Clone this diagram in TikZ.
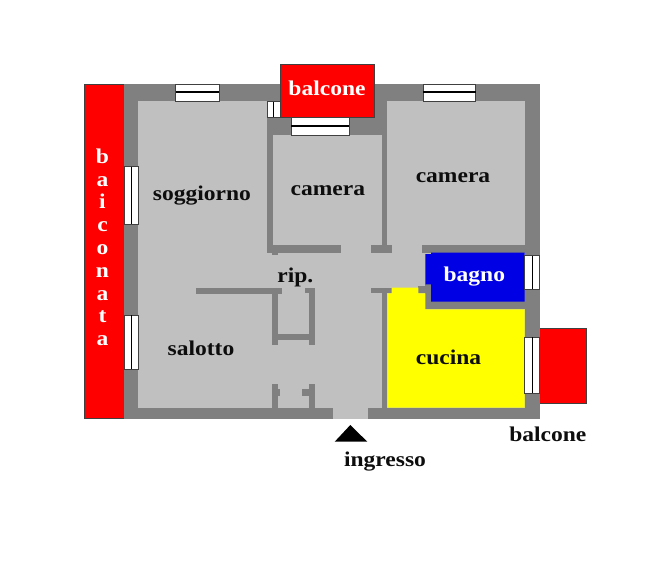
\documentclass[tikz,border=0pt]{standalone}
\usepackage{fontspec}
\setmainfont[FakeStretch=1.12]{Liberation Serif}
\definecolor{wallgray}{gray}{0.5}
\definecolor{floorgray}{gray}{0.753}
\definecolor{balconyred}{rgb}{1,0,0}
\definecolor{bathblue}{rgb}{0,0,0.9}
\definecolor{kitchenyellow}{rgb}{1,1,0}
\tikzset{
  wall/.style={fill=wallgray},
  winframe/.style={fill=white,draw=black!75,line width=0.7pt},
  winbar/.style={draw=black,line width=1.3pt},
  balcony/.style={fill=balconyred,draw=black!75,line width=0.8pt},
  roomlabel/.style={inner sep=0pt,anchor=base,font=\fontsize{21}{25}\bfseries\selectfont,text=black!95},
  whitelabel/.style={roomlabel,text=white}
}
\begin{document}
\begin{tikzpicture}[x=1pt,y=-1pt]
      \useasboundingbox (0,0) rectangle (650,575);
      \fill [white] (0,0) rectangle (650,575);
      \draw [balcony] (84,84) rectangle (124.3,418.5);
      \draw [balcony] (539.7,328.7) rectangle (586,403);
      \fill [wall] (124,84) rectangle (539.7,419);
      \fill [floorgray] (138.3,101.3) rectangle (524.7,407.7);
      \fill [floorgray] (333,407) rectangle (368,419);
      \fill [wall] (267.3,84) rectangle (387.3,135);
      \fill [floorgray] (138.3,101.3) rectangle (267.3,135);
      \fill [wall] (267.3,135) rectangle (272.7,252.7);
      \fill [wall] (267.3,245) rectangle (340.7,252.7);
      \fill [wall] (271.7,252) rectangle (278.3,255);
      \fill [wall] (381.7,135) rectangle (387.3,252.7);
      \fill [wall] (370.7,245) rectangle (391.7,252.7);
      \fill [wall] (421.7,245) rectangle (539.7,252.7);
      \fill [wall] (196,287.7) rectangle (282.3,293.7);
      \fill [wall] (272.3,287.7) rectangle (278.3,345);
      \fill [wall] (309.3,287.7) rectangle (315.3,345);
      \fill [wall] (305,287.7) rectangle (315.3,293.3);
      \fill [wall] (278.3,334) rectangle (309.3,340);
      \fill [wall] (272.3,384) rectangle (278.3,408);
      \fill [wall] (278.3,389) rectangle (280.3,395.7);
      \fill [wall] (309.3,384) rectangle (315.3,408);
      \fill [wall] (301.7,389) rectangle (309.3,395.7);
      \fill [wall] (381.7,287.7) rectangle (387.3,408);
      \fill [wall] (371,287.7) rectangle (391.7,293.3);
      \fill [wall] (418.3,286) rectangle (431,293.3);
      \fill [wall] (425.3,284.3) rectangle (524.7,309.3);
      \fill [kitchenyellow] (387.3,293.3) -- (391.7,293.3) -- (391.7,287.7) -- (418.3,287.7) -- (418.3,293.3) -- (425.3,293.3) -- (425.3,309.3) -- (524.7,309.3) -- (524.7,407.7) -- (387.3,407.7) -- cycle;
      \fill [bathblue] (431,252.7) -- (524.7,252.7) -- (524.7,301.7) -- (431,301.7) -- (431,284.3) -- (425.3,284.3) -- (425.3,254) -- (431,254) -- cycle;
      \draw [balcony] (280,64.7) rectangle (374,117.3);
      \draw [winframe] (175.7,84) rectangle (219.3,101.3);
      \draw [winbar] (175.7,92) -- (219.3,92);
      \draw [winframe] (423.3,84) rectangle (475.7,101.3);
      \draw [winbar] (423.3,92) -- (475.7,92);
      \draw [winframe] (291.3,117.3) rectangle (349,135);
      \draw [winbar] (291.3,126) -- (349,126);
      \draw [winframe] (267.3,101.7) rectangle (280,117);
      \draw [winbar] (273.3,101.7) -- (273.3,117);
      \draw [winframe] (124.3,166.7) rectangle (138.3,224.3);
      \draw [winbar] (131.3,166.7) -- (131.3,224.3);
      \draw [winframe] (124.3,315.3) rectangle (138.3,369);
      \draw [winbar] (131.3,315.3) -- (131.3,369);
      \draw [winframe] (524.7,255.7) rectangle (539.7,289.3);
      \draw [winbar] (532.3,255.7) -- (532.3,289.3);
      \draw [winframe] (524.7,337.3) rectangle (539.7,393.3);
      \draw [winbar] (532.3,337.3) -- (532.3,393.3);
      \fill [black] (350.3,425) -- (367.3,441.7) -- (334.7,441.7) -- cycle;
      \node [whitelabel] (balconetop) at (327,96) {balcone};
      \node [roomlabel] (soggiorno) at (202,200) {soggiorno};
      \node [roomlabel] (cameramid) at (327.8,195.7) {camera};
      \node [roomlabel] (cameraright) at (453,182.7) {camera};
      \node [roomlabel] (rip) at (295.3,282.3) {rip.};
      \node [roomlabel] (salotto) at (201,355.3) {salotto};
      \node [whitelabel] (bagno) at (474.3,281.7) {bagno};
      \node [roomlabel] (cucina) at (448.5,364.3) {cucina};
      \node [roomlabel] (balconeright) at (547.8,441.7) {balcone};
      \node [roomlabel] (ingresso) at (385,466.7) {ingresso};
      \foreach \ch [count=\i from 0] in {b,a,i,c,o,n,a,t,a}
        \node [whitelabel] (letter\i) at (102.5,163.3+22.8*\i) {\ch};
\end{tikzpicture}
\end{document}
